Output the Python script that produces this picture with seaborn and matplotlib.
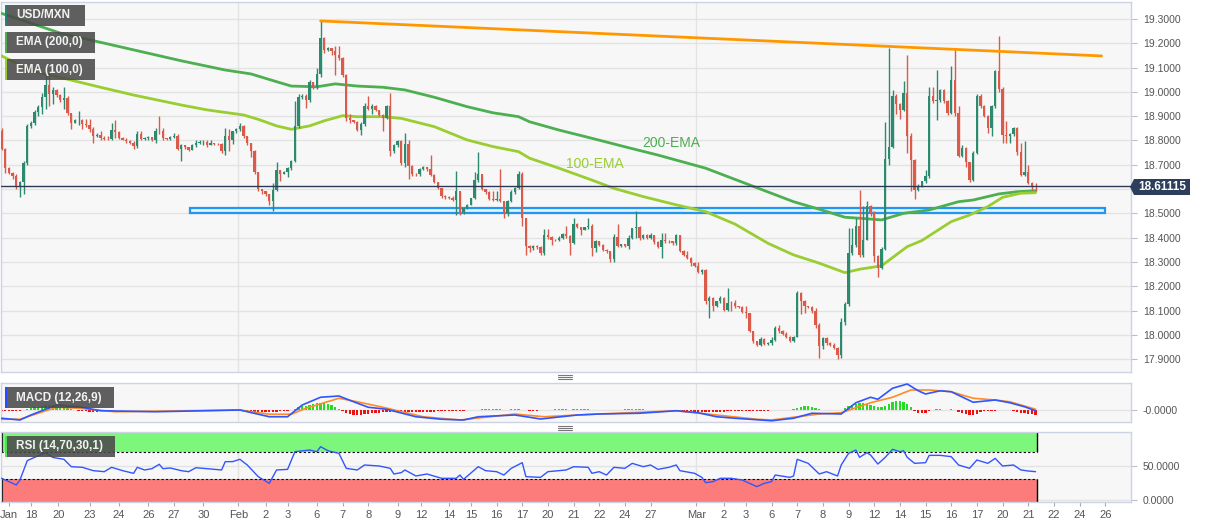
"""
USD/MXN 4H chart: candles with EMA 200/100, trendline and support zone,
plus MACD (12,26,9) and RSI (14) panels. Saves out.png.
"""

import numpy as np
import pandas as pd
import matplotlib
matplotlib.use("Agg")
import matplotlib.pyplot as plt
import seaborn as sns
from matplotlib.patches import Rectangle, Polygon
from matplotlib.lines import Line2D

# ==================== Data ====================
OPEN_FIRST = 18.84
CLOSE = [
    18.765, 18.687, 18.667, 18.652, 18.610, 18.628, 18.707, 18.861, 18.872, 18.916,
    18.938, 18.980, 19.030, 18.993, 19.006, 18.987, 18.965, 18.975, 18.913, 18.872,
    18.883, 18.885, 18.868, 18.865, 18.848, 18.817, 18.823, 18.810, 18.808, 18.805,
    18.845, 18.836, 18.811, 18.803, 18.796, 18.789, 18.776, 18.826, 18.806, 18.810,
    18.815, 18.800, 18.840, 18.838, 18.810, 18.807, 18.815, 18.820, 18.765, 18.780,
    18.775, 18.760, 18.780, 18.790, 18.792, 18.795, 18.780, 18.790, 18.785, 18.784,
    18.755, 18.817, 18.800, 18.838, 18.847, 18.860, 18.817, 18.789, 18.755, 18.670,
    18.600, 18.590, 18.579, 18.550, 18.597, 18.679, 18.661, 18.672, 18.687, 18.714,
    18.861, 18.977, 18.982, 18.968, 19.040, 19.020, 19.075, 19.222, 19.174, 19.180,
    19.170, 19.150, 19.140, 19.070, 18.893, 18.885, 18.876, 18.845, 18.869, 18.940,
    18.930, 18.940, 18.924, 18.906, 18.893, 18.940, 18.755, 18.780, 18.797, 18.707,
    18.787, 18.696, 18.662, 18.660, 18.683, 18.691, 18.683, 18.658, 18.628, 18.603,
    18.570, 18.568, 18.565, 18.554, 18.591, 18.504, 18.522, 18.536, 18.563, 18.639,
    18.660, 18.600, 18.587, 18.560, 18.555, 18.560, 18.550, 18.500, 18.550, 18.587,
    18.605, 18.664, 18.480, 18.365, 18.358, 18.364, 18.362, 18.337, 18.412, 18.403,
    18.392, 18.390, 18.400, 18.417, 18.406, 18.378, 18.458, 18.444, 18.433, 18.444,
    18.450, 18.358, 18.385, 18.371, 18.350, 18.344, 18.312, 18.403, 18.364, 18.373,
    18.366, 18.400, 18.439, 18.444, 18.400, 18.412, 18.399, 18.410, 18.381, 18.362,
    18.392, 18.386, 18.385, 18.378, 18.410, 18.344, 18.330, 18.317, 18.296, 18.282,
    18.257, 18.268, 18.138, 18.152, 18.120, 18.138, 18.152, 18.104, 18.131, 18.130,
    18.118, 18.115, 18.093, 18.088, 18.015, 17.974, 17.960, 17.983, 17.962, 17.968,
    17.980, 18.028, 18.017, 18.005, 17.991, 17.974, 17.991, 18.172, 18.138, 18.118,
    18.115, 18.097, 18.042, 17.956, 17.987, 17.967, 17.960, 17.946, 17.919, 18.052,
    18.128, 18.337, 18.371, 18.447, 18.330, 18.392, 18.529, 18.502, 18.323, 18.275,
    18.354, 18.724, 18.773, 18.985, 18.952, 18.924, 18.995, 18.817, 18.720, 18.595,
    18.614, 18.632, 18.653, 18.982, 18.961, 18.965, 19.006, 18.961, 18.913, 19.050,
    18.913, 18.738, 18.770, 18.710, 18.639, 18.749, 18.982, 18.940, 18.900, 18.850,
    18.943, 19.085, 19.012, 18.824, 18.817, 18.825, 18.851, 18.751, 18.659, 18.669,
    18.625, 18.614, 18.611,
]
HIGH = [
    18.850, 18.770, 18.690, 18.670, 18.660, 18.635, 18.715, 18.866, 18.880, 18.925,
    18.945, 18.995, 19.070, 19.090, 19.020, 19.010, 18.990, 19.020, 18.985, 18.915,
    18.890, 18.920, 18.890, 18.890, 18.890, 18.855, 18.830, 18.840, 18.820, 18.820,
    18.870, 18.885, 18.840, 18.815, 18.810, 18.800, 18.796, 18.837, 18.840, 18.815,
    18.820, 18.810, 18.850, 18.900, 18.850, 18.810, 18.820, 18.830, 18.825, 18.785,
    18.780, 18.770, 18.785, 18.800, 18.800, 18.800, 18.800, 18.800, 18.790, 18.790,
    18.790, 18.850, 18.846, 18.840, 18.850, 18.870, 18.862, 18.820, 18.790, 18.760,
    18.670, 18.600, 18.590, 18.580, 18.625, 18.713, 18.680, 18.675, 18.690, 18.720,
    18.961, 18.990, 18.990, 18.990, 19.050, 19.040, 19.100, 19.293, 19.225, 19.185,
    19.180, 19.190, 19.190, 19.145, 19.075, 18.910, 18.885, 18.880, 18.875, 18.955,
    18.982, 18.950, 18.945, 18.925, 18.910, 18.945, 18.995, 18.785, 18.800, 18.800,
    18.830, 18.800, 18.700, 18.665, 18.685, 18.695, 18.690, 18.740, 18.660, 18.630,
    18.605, 18.575, 18.570, 18.570, 18.673, 18.590, 18.525, 18.540, 18.565, 18.670,
    18.751, 18.660, 18.600, 18.590, 18.590, 18.590, 18.683, 18.550, 18.555, 18.595,
    18.610, 18.675, 18.670, 18.480, 18.370, 18.370, 18.370, 18.365, 18.436, 18.436,
    18.405, 18.395, 18.405, 18.420, 18.450, 18.410, 18.480, 18.460, 18.445, 18.445,
    18.480, 18.455, 18.390, 18.385, 18.375, 18.355, 18.345, 18.415, 18.458, 18.375,
    18.375, 18.410, 18.440, 18.508, 18.450, 18.415, 18.415, 18.420, 18.410, 18.385,
    18.420, 18.420, 18.390, 18.385, 18.415, 18.410, 18.350, 18.345, 18.320, 18.300,
    18.300, 18.270, 18.270, 18.160, 18.155, 18.140, 18.160, 18.155, 18.193, 18.140,
    18.145, 18.120, 18.120, 18.120, 18.090, 18.015, 17.975, 17.990, 17.985, 17.970,
    17.990, 18.035, 18.040, 18.020, 18.010, 17.995, 17.995, 18.180, 18.175, 18.145,
    18.120, 18.120, 18.110, 18.050, 17.990, 17.990, 17.970, 17.965, 17.950, 18.070,
    18.135, 18.440, 18.440, 18.480, 18.595, 18.529, 18.550, 18.535, 18.510, 18.330,
    18.360, 18.875, 19.180, 19.009, 18.990, 18.955, 19.046, 19.153, 18.830, 18.725,
    18.620, 18.635, 18.680, 19.020, 19.020, 19.089, 19.010, 19.010, 18.965, 19.105,
    19.174, 18.940, 18.780, 18.775, 18.710, 18.755, 18.990, 18.990, 18.945, 18.905,
    18.947, 19.090, 19.231, 19.020, 18.880, 18.830, 18.855, 18.855, 18.790, 18.797,
    18.700, 18.630, 18.625,
]
LOW = [
    18.760, 18.666, 18.660, 18.640, 18.600, 18.567, 18.581, 18.700, 18.850, 18.865,
    18.900, 18.910, 18.930, 18.940, 18.950, 18.980, 18.960, 18.930, 18.905, 18.848,
    18.870, 18.863, 18.848, 18.855, 18.835, 18.790, 18.815, 18.800, 18.800, 18.800,
    18.800, 18.810, 18.807, 18.800, 18.790, 18.785, 18.766, 18.770, 18.800, 18.800,
    18.800, 18.797, 18.790, 18.825, 18.800, 18.800, 18.800, 18.810, 18.760, 18.714,
    18.765, 18.755, 18.760, 18.775, 18.785, 18.780, 18.775, 18.780, 18.780, 18.780,
    18.750, 18.740, 18.755, 18.785, 18.830, 18.840, 18.810, 18.780, 18.730, 18.660,
    18.590, 18.580, 18.573, 18.535, 18.510, 18.590, 18.635, 18.660, 18.650, 18.680,
    18.710, 18.850, 18.970, 18.935, 18.960, 19.010, 19.010, 19.060, 19.160, 19.170,
    19.150, 19.070, 19.130, 19.060, 18.880, 18.870, 18.870, 18.840, 18.824, 18.860,
    18.925, 18.910, 18.920, 18.900, 18.840, 18.890, 18.735, 18.750, 18.775, 18.700,
    18.690, 18.640, 18.655, 18.655, 18.655, 18.680, 18.675, 18.655, 18.625, 18.600,
    18.565, 18.560, 18.560, 18.550, 18.495, 18.495, 18.496, 18.520, 18.535, 18.560,
    18.630, 18.595, 18.580, 18.555, 18.550, 18.550, 18.545, 18.480, 18.490, 18.545,
    18.580, 18.600, 18.446, 18.330, 18.340, 18.350, 18.355, 18.330, 18.330, 18.395,
    18.370, 18.385, 18.385, 18.395, 18.400, 18.330, 18.375, 18.440, 18.410, 18.430,
    18.435, 18.325, 18.340, 18.365, 18.345, 18.337, 18.300, 18.300, 18.360, 18.360,
    18.360, 18.355, 18.395, 18.400, 18.390, 18.395, 18.395, 18.395, 18.375, 18.358,
    18.316, 18.380, 18.380, 18.370, 18.370, 18.340, 18.325, 18.313, 18.285, 18.280,
    18.255, 18.250, 18.125, 18.070, 18.100, 18.115, 18.130, 18.100, 18.100, 18.100,
    18.110, 18.110, 18.090, 18.070, 18.013, 17.967, 17.955, 17.955, 17.960, 17.960,
    17.960, 17.975, 18.008, 18.000, 17.985, 17.970, 17.970, 17.990, 18.085, 18.090,
    18.110, 18.090, 18.030, 17.906, 17.940, 17.960, 17.955, 17.940, 17.900, 17.906,
    18.040, 18.120, 18.330, 18.360, 18.320, 18.320, 18.390, 18.490, 18.300, 18.240,
    18.270, 18.350, 18.700, 18.770, 18.910, 18.890, 18.920, 18.750, 18.590, 18.560,
    18.590, 18.610, 18.625, 18.645, 18.955, 18.886, 18.960, 18.955, 18.905, 18.910,
    18.900, 18.730, 18.730, 18.690, 18.630, 18.635, 18.745, 18.935, 18.895, 18.830,
    18.820, 18.935, 19.000, 18.790, 18.790, 18.790, 18.820, 18.740, 18.655, 18.655,
    18.620, 18.595, 18.590,
]

EMA200_IDX = [0, 16, 49, 61, 68, 75, 79, 86, 91, 97, 104, 110, 118, 127, 134, 141, 144,
              152, 161, 170, 179, 192, 204, 216, 223, 230, 234, 240, 246, 253, 261, 265,
              272, 277, 282]
EMA200_VAL = [19.323, 19.242, 19.128, 19.090, 19.074, 19.042, 19.024, 19.021, 19.033,
              19.024, 19.019, 19.008, 18.978, 18.939, 18.914, 18.898, 18.877, 18.843,
              18.809, 18.774, 18.740, 18.686, 18.617, 18.548, 18.517, 18.484, 18.480,
              18.473, 18.500, 18.514, 18.548, 18.555, 18.580, 18.589, 18.593]
EMA100_IDX = [0, 9, 18, 27, 36, 49, 56, 66, 70, 75, 79, 84, 88, 93, 97, 104, 109, 118,
              127, 134, 141, 144, 152, 161, 167, 175, 184, 192, 200, 209, 216, 223, 230,
              234, 240, 247, 251, 259, 264, 269, 273, 278, 282]
EMA100_VAL = [19.148, 19.083, 19.052, 19.019, 18.987, 18.946, 18.926, 18.905, 18.887,
              18.860, 18.846, 18.860, 18.881, 18.902, 18.898, 18.898, 18.891, 18.857,
              18.802, 18.775, 18.754, 18.727, 18.686, 18.637, 18.603, 18.569, 18.535,
              18.507, 18.456, 18.377, 18.329, 18.295, 18.256, 18.270, 18.284, 18.363,
              18.388, 18.466, 18.493, 18.528, 18.566, 18.583, 18.585]

TREND_IDX = [87, 300]
TREND_VAL = [19.292, 19.148]
ZONE_LOW, ZONE_HIGH = 18.503, 18.521
ZONE_START, ZONE_END = 51.5, 301.0
LAST_PRICE = 18.61115

MACD_IDX = [0, 5, 8, 15, 21, 27, 42, 65, 73, 78, 82, 87, 92, 96, 100, 105, 113, 120, 126,
            130, 140, 144, 147, 157, 163, 174, 184, 190, 195, 200, 210, 216, 221, 229,
            233, 237, 239, 243, 247, 250, 252, 256, 259, 265, 269, 271, 275, 279, 282]
MACD_VAL = [-0.033, -0.040, -0.020, 0.020, 0.013, -0.003, -0.007, 0.000, -0.027, -0.027,
            0.020, 0.051, 0.056, 0.033, 0.011, 0.003, -0.027, -0.037, -0.040, -0.027,
            -0.020, -0.029, -0.036, -0.020, -0.016, -0.013, -0.003, -0.011, -0.027,
            -0.033, -0.043, -0.033, -0.013, -0.016, 0.029, 0.051, 0.043, 0.087, 0.104,
            0.077, 0.064, 0.077, 0.073, 0.031, 0.037, 0.040, 0.029, 0.013, -0.003]
SIGNAL_IDX = [0, 5, 10, 15, 21, 31, 65, 73, 79, 83, 92, 97, 104, 115, 125, 140, 148, 157,
              163, 184, 195, 206, 210, 216, 223, 229, 237, 243, 248, 253, 259, 265, 271,
              275, 282]
SIGNAL_VAL = [-0.037, -0.037, -0.013, 0.011, 0.007, -0.007, 0.000, -0.017, -0.017, 0.007,
              0.047, 0.033, 0.011, -0.027, -0.040, -0.016, -0.027, -0.020, -0.016,
              -0.003, -0.020, -0.037, -0.040, -0.029, -0.016, -0.011, 0.029, 0.051,
              0.080, 0.080, 0.073, 0.047, 0.040, 0.033, 0.003]
# histogram per candle, in units of 0.001
MACD_HIST = [
    -2, -2, -2, -2, -2, -2, 2, 5, 8, 11,
    14, 17, 19, 21, 21, 20, 17, 13, 9, 5,
    2, -2, -4, -5, -6, -6, -6, -5, -4, -3,
    -2, -1, -1, -1, -1, -1, -1, -1, -1, -1,
    -1, -1, 1, 1, 1, -1, -1, -1, -1, -1,
    -1, -1, 1, 1, 1, 1, 1, 1, 1, 1,
    1, 2, 2, 3, 3, 3, 2, -2, -4, -6,
    -8, -9, -9, -9, -8, -7, -5, -4, -2, 2,
    6, 11, 15, 18, 21, 24, 27, 28, 27, 24,
    19, 13, 6, -3, -10, -15, -18, -19, -18, -16,
    -14, -12, -11, -10, -9, -9, -9, -9, -9, -8,
    -8, -8, -8, -8, -7, -7, -7, -6, -6, -5,
    -5, -4, -4, -3, -3, -2, -2, -1, -1, 1,
    2, 3, 3, 3, 3, 3, 3, 2, 2, 3,
    3, 3, 2, -1, -2, -2, -2, -1, 1, 2,
    2, 3, 3, 3, 3, 2, 3, 3, 3, 3,
    3, 2, 1, 1, 1, 1, -1, 1, 1, 1,
    3, 4, 5, 5, 4, 3, 2, 1, 1, -1,
    1, 1, 1, -1, -2, -3, -4, -5, -5, -6,
    -6, -6, -7, -7, -6, -6, -6, -6, -5, -5,
    -5, -4, -4, -4, -4, -4, -3, -3, -2, -2,
    -1, -1, 1, 1, 2, 2, 4, 10, 14, 17,
    16, 12, 8, 4, 2, 1, 1, 1, 1, 2,
    8, 16, 22, 26, 28, 27, 25, 20, 15, 12,
    11, 18, 26, 32, 35, 35, 32, 25, 12, -5,
    -10, -12, -10, -4, 2, 3, 3, 2, 2, 3,
    1, -6, -12, -17, -21, -20, -14, -8, -5, -4,
    -4, -2, 1, 1, 1, -1, -4, -7, -10, -13,
    -15, -17, -19,
]

RSI_IDX = [0, 2, 4, 5, 7, 9, 12, 14, 17, 19, 22, 25, 28, 30, 33, 36, 37, 39, 41, 43, 44,
           46, 49, 51, 53, 56, 60, 61, 63, 65, 67, 70, 73, 75, 78, 80, 84, 86, 87, 89,
           92, 94, 97, 99, 103, 106, 107, 109, 110, 113, 116, 120, 124, 125, 126, 130,
           132, 135, 137, 139, 142, 143, 147, 149, 154, 156, 160, 161, 163, 165, 167,
           170, 172, 175, 177, 179, 182, 184, 185, 189, 191, 192, 194, 196, 199, 202,
           206, 208, 210, 211, 215, 216, 217, 220, 223, 225, 228, 229, 231, 233, 234,
           236, 237, 239, 241, 243, 245, 246, 247, 249, 252, 253, 256, 259, 261, 264,
           266, 269, 271, 273, 276, 278, 280, 282]
RSI_VAL = [31.5, 26.6, 21.7, 29.0, 57.3, 62.2, 69.0, 62.0, 59.3, 48.5, 47.6, 42.7, 41.2,
           47.6, 42.7, 38.8, 47.6, 43.7, 45.6, 52.0, 45.6, 46.6, 42.7, 41.2, 47.0, 45.6,
           43.7, 55.9, 55.9, 59.3, 51.0, 33.9, 24.1, 43.7, 44.6, 70.5, 72.9, 70.5, 77.8,
           71.9, 68.0, 46.1, 43.7, 51.0, 49.5, 46.1, 37.8, 39.8, 43.7, 34.9, 37.8, 31.5,
           31.5, 36.3, 30.0, 48.5, 42.7, 41.2, 36.3, 46.1, 54.4, 33.9, 32.9, 41.2, 43.7,
           48.5, 47.6, 38.8, 41.2, 36.3, 47.6, 46.1, 53.4, 48.5, 51.0, 44.6, 47.6, 51.0,
           42.7, 38.8, 32.9, 25.1, 26.6, 31.5, 31.5, 29.0, 19.3, 24.1, 26.6, 36.3, 32.9,
           34.9, 59.3, 53.4, 37.8, 41.2, 34.9, 51.0, 68.0, 72.9, 62.2, 69.0, 65.6, 52.4,
           62.2, 73.9, 70.5, 71.9, 62.2, 53.4, 54.4, 65.1, 65.1, 63.2, 51.0, 46.1, 58.3,
           53.4, 60.7, 49.5, 51.0, 43.7, 42.2, 41.2]

TICK_POS = [2, 8, 15.5, 24, 32, 40, 47, 55, 64.6, 72, 78, 86, 93, 100, 108, 114.5, 122,
            128, 135, 142, 149, 156, 163, 170, 177, 189.5, 197, 203, 210, 217, 224, 231,
            238, 245, 252, 259, 266, 273, 280, 287, 294, 301]
TICK_LABELS = ["Jan", "18", "20", "23", "24", "26", "27", "30", "Feb", "2", "3", "6", "7",
               "8", "9", "12", "14", "15", "16", "17", "20", "21", "22", "24", "27", "Mar",
               "2", "3", "6", "7", "8", "9", "12", "14", "15", "16", "17", "20", "21",
               "22", "24", "26"]
MONTH_LINES = [64.6, 189.5]

# ==================== Colours ====================
C_UP = "#2e8a6e"
C_DOWN = "#dc5a49"
C_EMA200 = "#4caf50"
C_EMA100 = "#9acd32"
C_TREND = "#ff9800"
C_ZONE = "#2196f3"
C_PRICE = "#2c3a56"
C_BG = "#f7f7f7"
C_BORDER = "#cdd3e4"
C_GRID = "#e3e3e3"
C_TXT = "#555555"

sns.set_theme(style="white")
plt.rcParams.update({
    "font.family": ["Liberation Sans", "DejaVu Sans"],
    "axes.unicode_minus": False,
})

W, H = 1207, 526


def fx(px):
    return px / W


def fy(py):
    return 1 - py / H


XLIM = (-0.3, 307.9)

fig = plt.figure(figsize=(W / 100, H / 100), dpi=100)
ax = fig.add_axes([fx(0.5), fy(372), fx(1130), (372 - 2) / H])
ax_macd = fig.add_axes([fx(0.5), fy(422), fx(1130), (422 - 383) / H])
ax_rsi = fig.add_axes([fx(0.5), fy(502), fx(1130), (502 - 432) / H])

for a in (ax, ax_macd, ax_rsi):
    a.set_facecolor(C_BG)
    for s in a.spines.values():
        s.set_color(C_BORDER)
        s.set_linewidth(1)
    a.set_xlim(*XLIM)
    a.yaxis.tick_right()
    a.tick_params(axis="y", length=4, width=0.8, color="#b8bdd0", labelsize=7.5,
                  labelcolor=C_TXT, pad=5, right=True, left=False)
    for m in MONTH_LINES:
        a.axvline(m, color=C_GRID, lw=1, zorder=0)

# ==================== Main price panel ====================
close = np.array(CLOSE)
opens = np.concatenate([[OPEN_FIRST], close[:-1]])
high = np.maximum(np.array(HIGH), np.maximum(opens, close))
low = np.minimum(np.array(LOW), np.minimum(opens, close))
idx = np.arange(len(close))
up = close >= opens
cols = np.where(up, C_UP, C_DOWN)

ax.set_ylim(17.847, 19.37)
price_ticks = np.round(np.arange(17.9, 19.31, 0.1), 1)
ax.set_yticks(price_ticks)
# the 18.6 label sits under the last-price tag, so it is left blank
ax.set_yticklabels(["" if abs(v - 18.6) < 1e-6 else f"{v:.4f}" for v in price_ticks])
ax.grid(axis="y", color=C_GRID, lw=1, zorder=0)
ax.tick_params(axis="x", bottom=False, labelbottom=False)

# support zone
ax.add_patch(Rectangle((ZONE_START, ZONE_LOW), ZONE_END - ZONE_START, ZONE_HIGH - ZONE_LOW,
                       facecolor="#e6f2fd", edgecolor=C_ZONE, lw=1.6, zorder=2))

# EMAs
ema = pd.DataFrame({"idx": EMA200_IDX, "val": EMA200_VAL})
sns.lineplot(data=ema, x="idx", y="val", ax=ax, color=C_EMA200, lw=2, sort=False, zorder=3)
ema = pd.DataFrame({"idx": EMA100_IDX, "val": EMA100_VAL})
sns.lineplot(data=ema, x="idx", y="val", ax=ax, color=C_EMA100, lw=2, sort=False, zorder=3)

# candles
ax.vlines(idx, low, high, colors=cols, lw=1, zorder=4)
body_lo = np.minimum(opens, close)
body_h = np.maximum(np.abs(close - opens), 0.002)
ax.bar(idx, body_h, bottom=body_lo, width=0.62, color=cols, lw=0, zorder=5)

# trendline
sns.lineplot(x=TREND_IDX, y=TREND_VAL, ax=ax, color=C_TREND, lw=2, sort=False, zorder=6)

# last price line
ax.axhline(LAST_PRICE, color=C_PRICE, lw=1, zorder=6)

ax.text(174.8, 18.79, "200-EMA", color=C_EMA200, fontsize=10, ha="left", va="center", zorder=7)
ax.text(154.0, 18.703, "100-EMA", color=C_EMA100, fontsize=10, ha="left", va="center", zorder=7)
ax.set_xlabel("")
ax.set_ylabel("")

# ==================== MACD panel ====================
ax_macd.set_ylim(-0.048, 0.108)
ax_macd.set_yticks([0])
ax_macd.set_yticklabels(["-0.0000"])
ax_macd.grid(axis="y", color=C_GRID, lw=1, zorder=0)
ax_macd.tick_params(axis="x", bottom=False, labelbottom=False)
hist = np.array(MACD_HIST) * 0.001
hcols = np.where(hist >= 0, "#22dd22", "#ee1111")
ax_macd.bar(np.arange(len(hist)), hist, width=0.6, color=hcols, lw=0, zorder=2)
sns.lineplot(x=SIGNAL_IDX, y=SIGNAL_VAL, ax=ax_macd, color="#ff8a26", lw=1.2, sort=False, zorder=3)
sns.lineplot(x=MACD_IDX, y=MACD_VAL, ax=ax_macd, color="#2f55ff", lw=1.2, sort=False, zorder=4)
ax_macd.set_xlabel("")
ax_macd.set_ylabel("")

# ==================== RSI panel ====================
ax_rsi.set_ylim(-3.2, 99.3)
ax_rsi.set_yticks([0, 50])
ax_rsi.set_yticklabels(["0.0000", "50.0000"])
ax_rsi.grid(axis="y", color=C_GRID, lw=1, zorder=0)
band_end = 282.3
ax_rsi.add_patch(Rectangle((XLIM[0], 70), band_end - XLIM[0], 35, facecolor="#7cf77c",
                           edgecolor="none", zorder=1))
ax_rsi.add_patch(Rectangle((XLIM[0], -5), band_end - XLIM[0], 35, facecolor="#fc7b7b",
                           edgecolor="none", zorder=1))
for lvl in (70, 30):
    ax_rsi.plot([XLIM[0], band_end], [lvl, lvl], color="black", lw=0.8, ls=(0, (2, 2)), zorder=2)
ax_rsi.vlines([band_end], 70, 100, color="black", lw=1, zorder=2)
ax_rsi.vlines([band_end], -3.2, 30, color="black", lw=1, zorder=2)
ax_rsi.vlines([0.05], 70, 100, color="black", lw=1.5, zorder=2)
ax_rsi.vlines([0.05], -3.2, 30, color="black", lw=1.5, zorder=2)
sns.lineplot(x=RSI_IDX, y=RSI_VAL, ax=ax_rsi, color="#3355ff", lw=1, sort=False, zorder=3)
ax_rsi.set_xticks(TICK_POS)
ax_rsi.set_xticklabels(TICK_LABELS)
ax_rsi.tick_params(axis="x", bottom=True, length=3, width=0.8, color="#aaaaaa",
                   labelsize=8, labelcolor=C_TXT, pad=3)
ax_rsi.set_xlabel("")
ax_rsi.set_ylabel("")


# ==================== Legend boxes & overlays (figure pixels) ====================
def legend_box(x0, y0, w, h, stripe, text):
    fig.add_artist(Rectangle((fx(x0), fy(y0 + h)), fx(w), h / H, transform=fig.transFigure,
                             facecolor="#4a4a4a", alpha=0.88, edgecolor="none", zorder=20))
    fig.add_artist(Rectangle((fx(x0), fy(y0 + h)), fx(2), h / H, transform=fig.transFigure,
                             facecolor=stripe, edgecolor="none", zorder=21))
    fig.text(fx(x0 + 11), fy(y0 + h / 2), text, color="#f2f2f2", fontsize=8.5,
             fontweight="bold", ha="left", va="center", zorder=22)


legend_box(5, 5, 80, 21, "#2a7f77", "USD/MXN")
legend_box(5, 32, 90, 21, C_EMA200, "EMA (200,0)")
legend_box(5, 59, 90, 21, C_EMA100, "EMA (100,0)")
legend_box(5, 387, 109, 21, "#2a4bff", "MACD (12,26,9)")
legend_box(5, 436, 110, 21, "#55dd55", "RSI (14,70,30,1)")

# last price tag
py = 187
tag = [(1130, py), (1134, py - 8), (1190, py - 8), (1190, py + 8), (1134, py + 8)]
fig.add_artist(Polygon([(fx(x), fy(y)) for x, y in tag], closed=True, transform=fig.transFigure,
                       facecolor="#2c3e5c", edgecolor="none", zorder=20))
fig.text(fx(1162), fy(py), f"{LAST_PRICE:.5f}", color="white", fontsize=8.5,
         fontweight="bold", ha="center", va="center", zorder=21)

# panel resize handles
for hy in (377, 428):
    for dy in (-2, 0, 2):
        fig.add_artist(Line2D([fx(558), fx(572)], [fy(hy + dy), fy(hy + dy)],
                              transform=fig.transFigure, color="#777777", lw=0.8))

fig.savefig("out.png", dpi=100)
plt.close(fig)
